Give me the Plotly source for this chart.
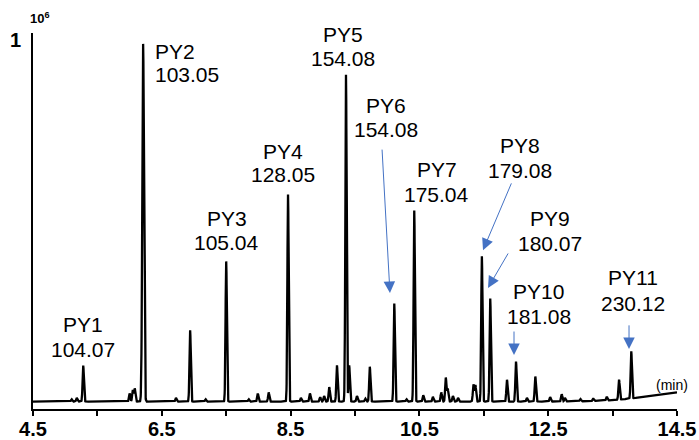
import numpy as np
import plotly.graph_objects as go

# ---- data (retention time in min, intensity in 1e6) ----
peak_times = [5.28, 5.10, 5.18, 6.00, 6.05, 6.08, 6.21, 6.72, 6.94, 7.18, 7.50, 7.85, 7.99, 8.16,
              8.46, 8.66, 8.80, 8.96, 9.02, 9.10, 9.22, 9.36, 9.41, 9.53, 9.66, 9.73,
              10.11, 10.30, 10.42, 10.56, 10.71, 10.84, 10.91, 10.94, 11.02, 11.10,
              11.34, 11.37, 11.47, 11.60, 11.86, 12.00, 12.17, 12.30, 12.53, 12.71,
              12.76, 13.00, 13.20, 13.41, 13.60, 13.79, 14.90]
peak_heights = [0.099, 0.006, 0.010, 0.022, 0.032, 0.036, 0.985, 0.010, 0.196, 0.006, 0.386, 0.006,
                0.022, 0.025, 0.570, 0.010, 0.022, 0.012, 0.015, 0.040, 0.100, 0.900,
                0.100, 0.015, 0.008, 0.096, 0.270, 0.006, 0.526, 0.017, 0.013, 0.025,
                0.066, 0.035, 0.015, 0.010, 0.047, 0.045, 0.400, 0.284, 0.060, 0.110,
                0.010, 0.069, 0.012, 0.020, 0.010, 0.006, 0.006, 0.010, 0.055, 0.130, 0.030]
peak_widths = [0.010] * 6 + [0.013] + [0.010] * 45 + [0.70]
baseline_level = 0.004

peak_names = ["PY1", "PY2", "PY3", "PY4", "PY5", "PY6", "PY7", "PY8", "PY9", "PY10", "PY11"]
peak_mz = ["104.07", "103.05", "105.04", "128.05", "154.08", "154.08", "175.04", "179.08",
           "180.07", "181.08", "230.12"]

# label placement (data coordinates)
label_x = [5.276, 6.363, 7.512, 8.382, 9.314, 9.981, 10.773, 12.062, 12.528, 12.357, 13.817]
name_y = [0.2149, 0.967, 0.5069, 0.6915, 1.0138, 0.8182, 0.6419, 0.708, 0.5069, 0.3058, 0.3444]
mz_y = [0.146, 0.9036, 0.4408, 0.6281, 0.9477, 0.7521, 0.573, 0.6391, 0.438, 0.2369, 0.2727]
label_anchor = ["center", "left", "center", "center", "center", "center", "center",
                "center", "center", "center", "center"]

# arrows: (tail_x, tail_y, head_x, head_y)
arrow_tail_x = [9.919, 11.938, 11.891, 11.969, 13.755]
arrow_tail_y = [0.702, 0.609, 0.416, 0.201, 0.218]
arrow_head_x = [10.043, 11.488, 11.565, 11.969, 13.755]
arrow_head_y = [0.303, 0.421, 0.317, 0.132, 0.149]

x_ticks = [4.5, 6.5, 8.5, 10.5, 12.5, 14.5]

# ---- build the signal ----
t = np.arange(4.5, 14.5005, 0.002)
signal = np.full_like(t, baseline_level)
for c, h, w in zip(peak_times, peak_heights, peak_widths):
    signal += h * np.exp(-0.5 * ((t - c) / w) ** 2)

fig = go.Figure()
fig.add_trace(go.Scatter(x=t, y=signal, mode="lines",
                         line=dict(color="black", width=2.3), hoverinfo="skip",
                         showlegend=False))

FONT = "Arial, Liberation Sans, sans-serif"
annotations = []
for name, mz, x, ny, my, anc in zip(peak_names, peak_mz, label_x, name_y, mz_y, label_anchor):
    for txt, y in ((name, ny), (mz, my)):
        annotations.append(dict(x=x, y=y, xref="x", yref="y", text=txt, showarrow=False,
                                xanchor=anc, yanchor="middle",
                                font=dict(family=FONT, size=21, color="black")))
for tx, ty, hx, hy in zip(arrow_tail_x, arrow_tail_y, arrow_head_x, arrow_head_y):
    annotations.append(dict(x=hx, y=hy, ax=tx, ay=ty, xref="x", yref="y", axref="x", ayref="y",
                            text="", showarrow=True, arrowhead=2, arrowsize=2.3, arrowwidth=1,
                            arrowcolor="#4472C4", standoff=0, startstandoff=0))
annotations.append(dict(x=-0.0264, y=0.981, xref="paper", yref="paper", text="<b>1</b>",
                        showarrow=False, xanchor="center", yanchor="middle",
                        font=dict(family=FONT, size=20, color="black")))
annotations.append(dict(x=0.0109, y=1.040, xref="paper", yref="paper", text="<b>10<sup>6</sup></b>",
                        showarrow=False, xanchor="center", yanchor="middle",
                        font=dict(family=FONT, size=13, color="black")))
annotations.append(dict(x=14.42, y=0.05, xref="x", yref="y", text="(min)",
                        showarrow=False, xanchor="center", yanchor="middle",
                        font=dict(family=FONT, size=14, color="black")))

all_ticks = [4.5 + i for i in range(11)]
fig.update_layout(
    width=699, height=440,
    margin=dict(l=33, r=22, t=33, b=31, autoexpand=False),
    plot_bgcolor="white", paper_bgcolor="white",
    annotations=annotations,
    xaxis=dict(range=[4.5, 14.5], showgrid=False, zeroline=False, showline=True, automargin=False,
               linecolor="black", linewidth=2, ticks="outside", ticklen=5, tickwidth=2,
               tickcolor="black", tickvals=all_ticks, ticklabelstandoff=-4,
               ticktext=[f"{v:g}" if v in x_ticks else "" for v in all_ticks],
               tickfont=dict(family=FONT, size=20, color="black", weight="bold")),
    yaxis=dict(range=[-0.0165, 1.019], showgrid=False, zeroline=False, showline=True, automargin=False,
               linecolor="black", linewidth=2, showticklabels=False, ticks=""),
)
fig.write_html("out.html", config={"displayModeBar": False},
               post_script="document.body.style.margin='0';document.body.style.overflow='hidden';")
